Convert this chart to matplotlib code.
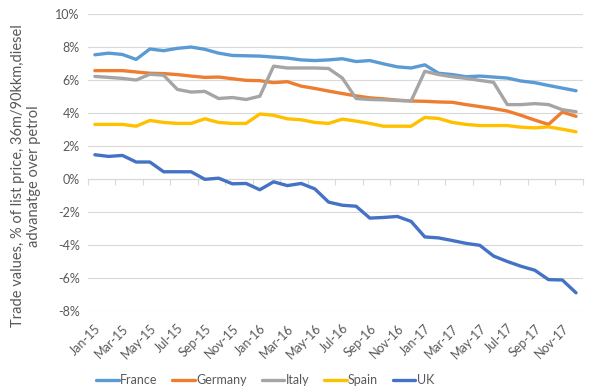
import numpy as np
import pandas as pd
import matplotlib
matplotlib.use('Agg')
import matplotlib.pyplot as plt

plt.rcParams['font.family'] = ['Lato', 'DejaVu Sans']

# monthly data Jan-15 .. Dec-17
months = pd.date_range('2015-01-01', periods=36, freq='MS').strftime('%b-%y').tolist()

france = [7.53, 7.63, 7.55, 7.25, 7.88, 7.78, 7.92, 8.00, 7.86, 7.63, 7.49, 7.47,
          7.45, 7.39, 7.33, 7.22, 7.18, 7.22, 7.29, 7.12, 7.18, 6.98, 6.80, 6.73,
          6.92, 6.41, 6.33, 6.20, 6.24, 6.18, 6.12, 5.94, 5.84, 5.67, 5.51, 5.35]
germany = [6.57, 6.57, 6.57, 6.49, 6.41, 6.39, 6.33, 6.24, 6.16, 6.18, 6.08, 5.98,
           5.96, 5.84, 5.90, 5.63, 5.49, 5.33, 5.18, 5.04, 4.92, 4.86, 4.78, 4.73,
           4.71, 4.67, 4.65, 4.51, 4.39, 4.27, 4.12, 3.86, 3.57, 3.31, 4.06, 3.80]
italy = [6.22, 6.16, 6.10, 6.00, 6.35, 6.29, 5.43, 5.27, 5.31, 4.88, 4.94, 4.82,
         5.02, 6.84, 6.73, 6.73, 6.73, 6.70, 6.12, 4.88, 4.82, 4.80, 4.76, 4.73,
         6.53, 6.33, 6.20, 6.10, 5.98, 5.86, 4.51, 4.51, 4.57, 4.51, 4.20, 4.08]
spain = [3.31, 3.31, 3.31, 3.20, 3.55, 3.43, 3.37, 3.37, 3.65, 3.43, 3.37, 3.37,
         3.94, 3.86, 3.65, 3.59, 3.43, 3.37, 3.63, 3.51, 3.37, 3.20, 3.20, 3.20,
         3.73, 3.67, 3.43, 3.31, 3.24, 3.24, 3.24, 3.14, 3.10, 3.16, 3.02, 2.86]
uk = [1.47, 1.37, 1.43, 1.03, 1.03, 0.44, 0.44, 0.44, -0.02, 0.05, -0.29, -0.27,
      -0.65, -0.17, -0.40, -0.27, -0.60, -1.40, -1.59, -1.65, -2.37, -2.33, -2.27, -2.57,
      -3.51, -3.57, -3.73, -3.90, -4.02, -4.67, -5.00, -5.29, -5.53, -6.10, -6.12, -6.90]

series = [('France', france, '#5B9BD5'),
          ('Germany', germany, '#ED7D31'),
          ('Italy', italy, '#A5A5A5'),
          ('Spain', spain, '#FFC000'),
          ('UK', uk, '#4472C4')]

fig = plt.figure(figsize=(5.93, 3.90), dpi=100)
ax = fig.add_axes([0.1484, 0.2026, 0.8346, 0.7614])

x = np.arange(len(months))
for name, vals, col in series:
    ax.plot(x, vals, color=col, lw=2.4, label=name, solid_capstyle='round')

ax.set_xlim(-0.5, len(months) - 0.5)
ax.set_ylim(-8, 10)
ax.set_yticks(np.arange(-8, 11, 2))
ax.set_yticklabels(['%d%%' % v for v in range(-8, 11, 2)])
ax.yaxis.grid(True, color='#D9D9D9', lw=0.8)
ax.set_axisbelow(True)
for s in ax.spines.values():
    s.set_visible(False)

ax.set_xticks(x[::2])
ax.set_xticklabels(months[::2], rotation=45, ha='right', rotation_mode='anchor')
ax.tick_params(axis='both', length=0, labelsize=9, colors='#595959', pad=6)
ax.tick_params(axis='x', pad=8)

# horizontal axis line with tick marks at 0%
sec = ax.secondary_xaxis(8 / 18)
sec.set_xticks(np.arange(-0.5, len(months), 2))
sec.tick_params(length=4, color='#D9D9D9', labelbottom=False, labeltop=False)
sec.spines['bottom'].set_color('#D9D9D9')
sec.spines['bottom'].set_linewidth(0.8)

ax.set_ylabel('Trade values, % of list price, 36m/90kkm,diesel\nadvanatge over petrol',
              fontsize=10.5, color='#595959')
ax.yaxis.set_label_coords(-0.095, 0.455)

fig.legend(loc='center', bbox_to_anchor=(0.447, 0.025), ncol=5, frameon=False,
           fontsize=9, handlelength=1.8, handletextpad=0.1, columnspacing=1.2,
           labelcolor='#595959')

fig.savefig('out.png', dpi=100)
